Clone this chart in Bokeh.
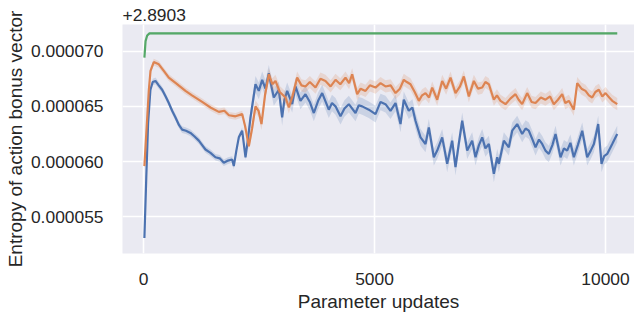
import numpy as np
from bokeh.plotting import figure
from bokeh.models import ColumnDataSource, Range1d, FixedTicker
from bokeh.embed import file_html
from bokeh.resources import INLINE

# ---- data (y values are offsets from 2.8903, in units of 1e-6) ----
OFFSET_TEXT = "+2.8903"
X_TICKS = [0, 5000, 10000]
Y_TICKS = [55, 60, 65, 70]
Y_TICK_LABELS = ["0.000055", "0.000060", "0.000065", "0.000070"]
X_LABEL = "Parameter updates"
Y_LABEL = "Entropy of action bonus vector"

green_x = [20, 45, 80, 130, 300, 1000, 3000, 6000, 9000, 10253]
green_y = [69.4, 70.9, 71.4, 71.6, 71.6, 71.6, 71.6, 71.6, 71.6, 71.6]
green_ci = [0.10, 0.10]

orange_x = [20, 60, 115, 152, 223, 332, 440, 548, 700, 909, 1050, 1270, 1450, 1631, 1750, 1850,
            1991, 2136, 2200, 2280, 2350, 2424, 2490, 2554, 2630, 2713, 2790, 2857, 2950, 3074,
            3146, 3230, 3326, 3420, 3506, 3600, 3723, 3830, 3939, 4050, 4156, 4260, 4372, 4450,
            4517, 4625, 4700, 4805, 4900, 5022, 5130, 5238, 5350, 5455, 5550, 5634, 5700, 5779,
            5870, 5960, 6030, 6104, 6180, 6249, 6357, 6465, 6550, 6645, 6753, 6850, 6933, 7042,
            7150, 7240, 7331, 7400, 7475, 7583, 7650, 7727, 7835, 7940, 8052, 8120, 8196, 8304,
            8400, 8485, 8600, 8701, 8800, 8881, 8970, 9062, 9130, 9206, 9314, 9387, 9480, 9567,
            9640, 9712, 9780, 9855, 9930, 10000, 10080, 10145, 10253]
orange_y = [59.6, 62.5, 66.4, 68.2, 69.0, 68.8, 68.2, 67.6, 67.1, 66.4, 66.0, 65.4, 64.9, 64.5, 64.6, 64.2,
            64.1, 64.3, 63.2, 61.4, 63.0, 65.0, 64.6, 63.4, 66.0, 67.9, 67.0, 67.3, 66.3, 65.8,
            64.9, 66.0, 67.6, 66.9, 66.8, 67.2, 66.7, 67.5, 67.3, 66.8, 67.4, 67.0, 67.6, 67.1,
            67.9, 66.1, 66.6, 66.4, 66.9, 66.7, 67.1, 66.8, 66.9, 66.2, 66.6, 67.4, 67.2, 67.0,
            66.3, 65.5, 66.0, 66.2, 65.8, 66.7, 65.6, 67.3, 66.6, 67.6, 66.2, 66.8, 67.7, 65.9,
            67.3, 66.6, 66.7, 67.2, 67.0, 65.6, 66.0, 65.5, 65.2, 65.7, 66.1, 65.6, 65.2, 66.2,
            65.4, 65.3, 65.8, 65.6, 65.9, 65.2, 65.6, 66.1, 65.3, 65.5, 64.7, 67.1, 66.6, 66.4,
            66.0, 65.8, 66.3, 66.5, 65.9, 66.2, 65.8, 65.5, 65.2]
orange_ci = [0.30, 0.55]

blue_x = [20, 60, 100, 150, 200, 260, 330, 404, 480, 548, 620, 693, 770, 837, 920, 1017, 1100, 1198,
          1270, 1342, 1450, 1558, 1650, 1739, 1830, 1919, 1955, 2010, 2063, 2136, 2208, 2260, 2316,
          2370, 2424, 2496, 2569, 2640, 2713, 2770, 2821, 2929, 3001, 3050, 3110, 3218, 3290, 3398,
          3506, 3600, 3687, 3780, 3868, 4011, 4080, 4156, 4264, 4350, 4444, 4589, 4660, 4733, 4877,
          5022, 5130, 5238, 5346, 5455, 5563, 5634, 5742, 5820, 5887, 5996, 6104, 6176, 6284, 6357,
          6465, 6520, 6573, 6681, 6753, 6820, 6898, 7006, 7114, 7186, 7260, 7331, 7400, 7475, 7583,
          7656, 7691, 7799, 7907, 7980, 8088, 8196, 8270, 8340, 8420, 8485, 8560, 8629, 8700, 8773,
          8850, 8918, 9026, 9100, 9170, 9240, 9314, 9400, 9496, 9603, 9680, 9748, 9842, 9913, 9970,
          10036, 10145, 10253]
blue_y = [53.1, 58.5, 63.5, 66.5, 67.2, 67.3, 66.9, 66.5, 65.9, 65.3, 64.6, 64.0, 63.3, 62.9, 62.8, 62.6, 62.3, 61.9,
          61.5, 61.1, 60.8, 60.4, 60.3, 59.9, 60.1, 60.2, 59.6, 61.0, 62.2, 62.8, 60.4, 62.0, 64.0,
          65.5, 67.0, 66.4, 67.4, 66.6, 68.0, 66.8, 65.8, 66.5, 64.0, 65.6, 66.4, 65.2, 66.8, 65.5,
          66.1, 65.4, 64.4, 65.5, 66.2, 64.7, 65.3, 65.0, 64.1, 64.8, 65.2, 64.4, 65.1, 65.0, 64.7,
          64.3, 65.4, 65.2, 64.6, 65.3, 63.4, 65.6, 64.6, 64.9, 63.7, 62.2, 61.6, 63.1, 60.4, 61.0,
          62.2, 61.0, 59.8, 61.9, 59.5, 61.5, 63.7, 61.0, 61.9, 60.4, 61.5, 62.2, 61.2, 61.6, 58.9,
          60.4, 59.8, 61.9, 61.3, 62.8, 63.4, 62.5, 63.0, 62.8, 62.0, 61.3, 62.0, 61.6, 61.0, 60.7,
          61.5, 62.5, 60.4, 61.2, 61.0, 61.7, 60.4, 61.5, 62.8, 60.4, 61.0, 61.6, 63.4, 59.8, 60.5,
          60.7, 61.6, 62.5]
blue_ci = [0.30, 0.75]

CI_SWITCH_X = 2300

# ---- styling ----
BLUE, ORANGE, GREEN = "#4C72B0", "#DD8452", "#55A868"
BG = "#EAEAF2"
TEXT = "#262626"
FONT = "Liberation Sans"

p = figure(width=634, height=318, output_backend="svg", toolbar_location=None,
           x_range=Range1d(-454, 10627), y_range=Range1d(51.7, 72.4),
           min_border_left=122, min_border_right=0, min_border_top=24, min_border_bottom=65)
p.background_fill_color = BG
p.border_fill_color = "white"
p.outline_line_color = None

p.title.text = OFFSET_TEXT
p.title.align = "left"
p.title.offset = 0
p.title.standoff = 8
p.title.text_font = FONT
p.title.text_font_size = "17.4px"
p.title.text_font_style = "normal"
p.title.text_color = TEXT
p.title.text_line_height = 0.85

for xs, ys, ci, col in [(blue_x, blue_y, blue_ci, BLUE),
                        (orange_x, orange_y, orange_ci, ORANGE),
                        (green_x, green_y, green_ci, GREEN)]:
    xa = np.array(xs, dtype=float)
    ya = np.array(ys, dtype=float)
    hw = np.where(xa < CI_SWITCH_X, ci[0], ci[1])
    src = ColumnDataSource(dict(x=xa, y=ya, lo=ya - hw, hi=ya + hw))
    p.varea(x="x", y1="lo", y2="hi", source=src, fill_color=col, fill_alpha=0.2)
    p.line(x="x", y="y", source=src, line_color=col, line_width=2.2)

p.xaxis.ticker = FixedTicker(ticks=X_TICKS)
p.yaxis.ticker = FixedTicker(ticks=Y_TICKS)
p.yaxis.major_label_overrides = {t: l for t, l in zip(Y_TICKS, Y_TICK_LABELS)}
p.xgrid.ticker = FixedTicker(ticks=X_TICKS)
p.ygrid.ticker = FixedTicker(ticks=Y_TICKS)
for g in (p.xgrid, p.ygrid):
    g.grid_line_color = "white"
    g.grid_line_width = 1.6

for ax in (p.xaxis, p.yaxis):
    ax.axis_line_color = None
    ax.major_tick_line_color = None
    ax.minor_tick_line_color = None
    ax.major_tick_out = 0
    ax.major_tick_in = 0
    ax.major_label_text_font = FONT
    ax.major_label_text_font_size = "17.4px"
    ax.major_label_text_color = TEXT
    ax.major_label_text_line_height = 0.9
    ax.axis_label_text_font = FONT
    ax.axis_label_text_font_size = "19px"
    ax.axis_label_text_font_style = "normal"
    ax.axis_label_text_color = TEXT
    ax.axis_label_text_line_height = 0.9

p.xaxis.axis_label = X_LABEL
p.yaxis.axis_label = Y_LABEL
p.xaxis.major_label_standoff = 19
p.xaxis.axis_label_standoff = 3
p.yaxis.major_label_standoff = 19
p.yaxis.axis_label_standoff = 2

open("out.html", "w").write(file_html(p, INLINE))
